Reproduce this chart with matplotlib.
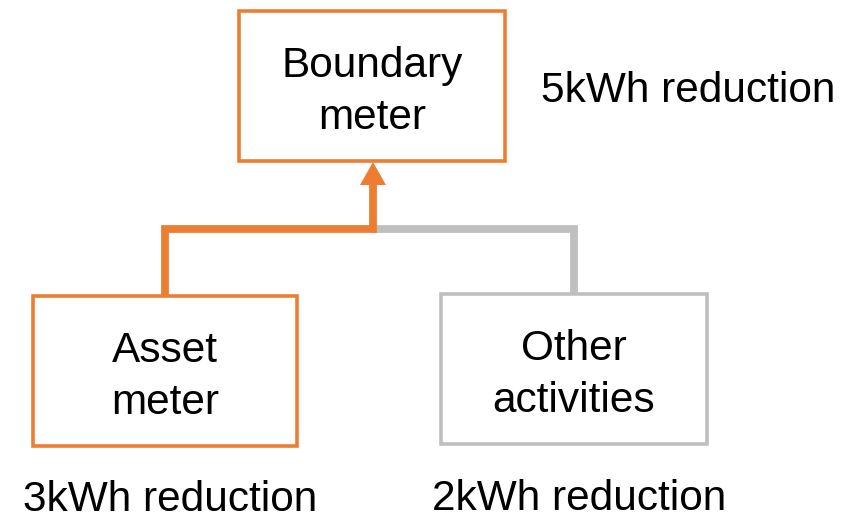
import matplotlib
matplotlib.use("Agg")
import matplotlib.pyplot as plt
from matplotlib.patches import Rectangle

# Data
node_labels = ["Boundary\nmeter", "Asset\nmeter", "Other\nactivities"]
reductions_kwh = [5, 3, 2]
reduction_labels = [f"{v}kWh reduction" for v in reductions_kwh]

ORANGE = "#ED7D31"
GRAY = "#BFBFBF"
FONT = "Liberation Sans"
FS = 30.5

fig = plt.figure(figsize=(8.56, 5.2), dpi=100)
ax = fig.add_axes([0, 0, 1, 1])
ax.set_xlim(0, 856)
ax.set_ylim(520, 0)
ax.axis("off")

# boxes: (x0, y0, x1, y1)
boxes = [(239, 11, 505, 161), (33, 296, 297, 446), (441, 294, 707, 444)]
colors = [ORANGE, ORANGE, GRAY]
for (x0, y0, x1, y1), c, lab in zip(boxes, colors, node_labels):
    ax.add_patch(Rectangle((x0, y0), x1 - x0, y1 - y0, fill=False,
                           edgecolor=c, linewidth=2.6, joinstyle="miter"))
    ax.text((x0 + x1) / 2, (y0 + y1) / 2 + 6, lab, ha="center", va="center",
            fontsize=FS, family=FONT, linespacing=1.4, color="black")

LW = 5.6
# gray connector
ax.plot([373, 574, 574], [229, 229, 295], color=GRAY, linewidth=LW,
        solid_joinstyle="miter", solid_capstyle="butt")
# orange connector
ax.plot([165, 165, 373, 373], [296, 229, 229, 182], color=ORANGE, linewidth=LW,
        solid_joinstyle="miter", solid_capstyle="butt")
# arrow head
ax.add_patch(plt.Polygon([[360, 185], [386, 185], [373, 162]], closed=True,
                         facecolor=ORANGE, edgecolor=ORANGE, linewidth=0))

# reduction labels
ax.text(541, 91, reduction_labels[0], ha="left", va="center", fontsize=FS, family=FONT)
ax.text(170, 500, reduction_labels[1], ha="center", va="center", fontsize=FS, family=FONT)
ax.text(579, 499, reduction_labels[2], ha="center", va="center", fontsize=FS, family=FONT)

fig.savefig("out.png", dpi=100)
